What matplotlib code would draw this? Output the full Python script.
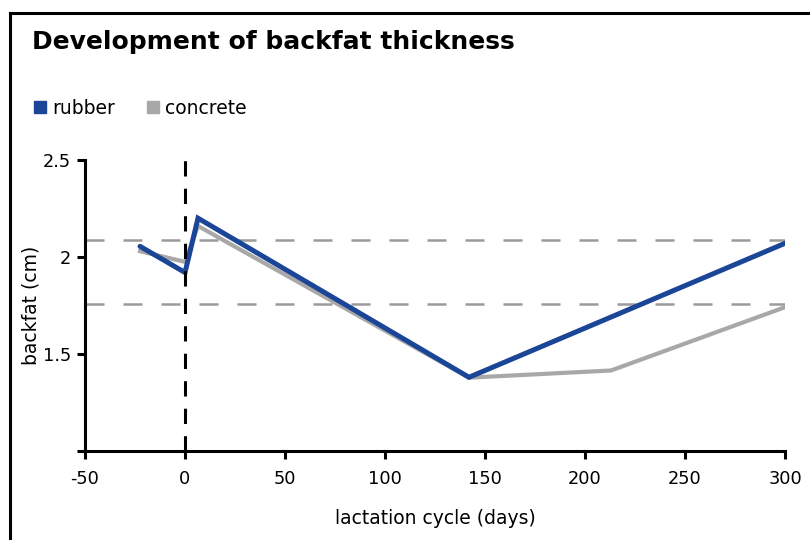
import matplotlib
matplotlib.use("Agg")
import matplotlib.pyplot as plt
from matplotlib.lines import Line2D

plt.rcParams["font.family"] = ["DejaVu Sans"]
plt.rcParams["axes.unicode_minus"] = False

# data
days_rubber = [-22.5, 0, 6.5, 142, 301]
backfat_rubber = [2.055, 1.92, 2.20, 1.38, 2.075]
days_concrete = [-22.5, 0, 6.5, 142, 213, 301]
backfat_concrete = [2.03, 1.975, 2.16, 1.378, 1.415, 1.745]
ref_levels = [2.088, 1.758]
farrowing_day = 0

blue = "#1b4597"
grey = "#a8a8a8"

fig = plt.figure(figsize=(8.1, 5.4), dpi=100)
ax = fig.add_axes([85 / 810, 1 - 451 / 540, 700 / 810, 291 / 540])

# reference levels
for lvl in ref_levels:
    ax.plot([-50, 300], [lvl, lvl], color="#9b9b9b", lw=1.8,
            dashes=(7.6, 7.6), zorder=1)
ax.plot([farrowing_day, farrowing_day], [1.0, 2.5], color="black", lw=2.2,
        dashes=(5, 4), zorder=4)

ax.plot(days_concrete, backfat_concrete, color=grey, lw=3.0, zorder=2,
        solid_joinstyle="miter")
ax.plot(days_rubber, backfat_rubber, color=blue, lw=3.6, zorder=3,
        solid_joinstyle="miter", solid_capstyle="round")

ax.set_xlim(-50, 300)
ax.set_ylim(1.0, 2.5)
ax.set_xticks([-50, 0, 50, 100, 150, 200, 250, 300])
ax.set_yticks([1.0, 1.5, 2.0, 2.5])
ax.set_yticklabels(["", "1.5", "2", "2.5"])
for s in ["top", "right"]:
    ax.spines[s].set_visible(False)
for s in ["left", "bottom"]:
    ax.spines[s].set_linewidth(2.2)
ax.tick_params(width=2.2, length=6, labelsize=12.8)
ax.tick_params(axis="x", pad=8)
ax.tick_params(axis="y", pad=4)
ax.set_xlabel("lactation cycle (days)", fontsize=13.5, labelpad=15)
ax.set_ylabel("backfat (cm)", fontsize=13.5, labelpad=2)

# title and legend
fig.text(32 / 810, 1 - 42 / 540, "Development of backfat thickness",
         fontsize=18, fontweight="bold", va="center")
handles = [Line2D([], [], ls="none", marker="s", markersize=8.5,
                  color=c) for c in (blue, grey)]
fig.legend(handles, ["rubber", "concrete"], loc="center left",
           bbox_to_anchor=(14 / 810, 1 - 108 / 540), ncol=2, frameon=False,
           fontsize=13.5, handletextpad=0.15, columnspacing=1.5,
           handlelength=1.0)

# outer frame (continues past the right and bottom edges)
fig.add_artist(Line2D([10 / 810, 10 / 810], [0, 1 - 13 / 540],
                      transform=fig.transFigure, color="black", lw=2.2))
fig.add_artist(Line2D([10 / 810, 1], [1 - 13 / 540, 1 - 13 / 540],
                      transform=fig.transFigure, color="black", lw=2.2))

fig.savefig("out.png", dpi=100)
